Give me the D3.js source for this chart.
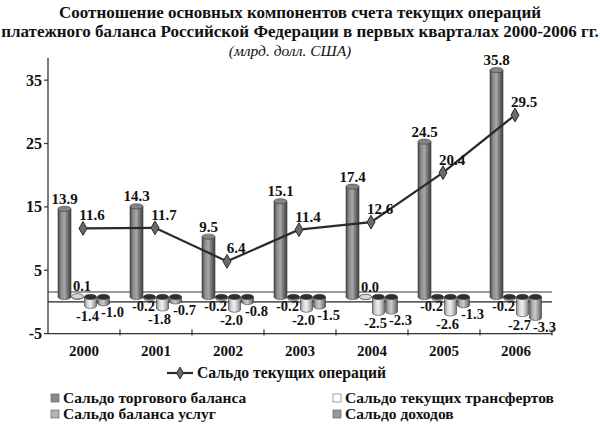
<!DOCTYPE html>
<html>
<head>
<meta charset="utf-8">
<script src="https://cdn.jsdelivr.net/npm/d3@7"></script>
<style>
  html, body { margin: 0; padding: 0; background: #fff; }
  svg { display: block; }
  text { font-family: "Liberation Serif", "Times New Roman", serif; font-weight: bold; fill: #111; }
</style>
</head>
<body>
<svg id="chart" width="600" height="445"></svg>
<script>
// ---- data ----
const years = ["2000", "2001", "2002", "2003", "2004", "2005", "2006"];
const trade = [13.9, 14.3, 9.5, 15.1, 17.4, 24.5, 35.8];
const transfers = [0.1, -0.2, -0.2, -0.2, 0.0, -0.2, -0.2];
const services = [-1.4, -1.8, -2.0, -2.0, -2.5, -2.6, -2.7];
const income = [-1.0, -0.7, -0.8, -1.5, -2.3, -1.3, -3.3];
const current = [11.6, 11.7, 6.4, 11.4, 12.6, 20.4, 29.5];
const yTicks = [-5, 5, 15, 25, 35];
const titleLines = [
  "Соотношение основных компонентов счета текущих операций",
  "платежного баланса Российской Федерации в первых кварталах 2000-2006 гг."
];
const subtitle = "(млрд. долл. США)";
const seriesKeys = ["trade", "transfers", "services", "income"];
const seriesNames = {
  trade: "Сальдо торгового баланса",
  transfers: "Сальдо текущих трансфертов",
  services: "Сальдо баланса услуг",
  income: "Сальдо доходов"
};
const lineName = "Сальдо текущих операций";
const seriesData = { trade, transfers, services, income };

// ---- layout ----
const svg = d3.select("#chart");
const plotLeft = 48, plotRight = 552, plotTop = 58, plotBottom = 333.6;
const depth = 5; // 3D floor offset

const y = d3.scaleLinear().domain([-5, 38.5]).range([plotBottom, plotTop]);
const x = d3.scaleBand().domain(years).range([plotLeft, plotRight]).padding(0);
const x1 = d3.scaleBand().domain(seriesKeys).range([10, 62]).padding(0);

// ---- gradients ----
const defs = svg.append("defs");
const grads = {
  trade: ["#4a4a4a", "#8e8e8e", "#a6a6a6", "#707070", "#404040"],
  transfers: ["#a8a8a8", "#e6e6e6", "#f6f6f6", "#d6d6d6", "#a0a0a0"],
  services: ["#8a8a8a", "#d6d6d6", "#eeeeee", "#bdbdbd", "#7c7c7c"],
  income: ["#666666", "#b0b0b0", "#c8c8c8", "#949494", "#5a5a5a"]
};
Object.entries(grads).forEach(([k, cols]) => {
  const g = defs.append("linearGradient").attr("id", "g-" + k)
    .attr("x1", "0").attr("x2", "1").attr("y1", "0").attr("y2", "0");
  cols.forEach((c, i) => g.append("stop").attr("offset", i / (cols.length - 1)).attr("stop-color", c));
});
const capColors = { trade: "#848484", transfers: "#d8d8d8", services: "#c4c4c4", income: "#a0a0a0" };

// ---- title ----
svg.append("text").attr("x", 300).attr("y", 18).attr("text-anchor", "middle")
  .style("font-size", "17px").text(titleLines[0]);
svg.append("text").attr("x", 300).attr("y", 37).attr("text-anchor", "middle")
  .style("font-size", "17px").text(titleLines[1]);
svg.append("text").attr("x", 290).attr("y", 56).attr("text-anchor", "middle")
  .style("font-size", "15.5px").style("font-style", "italic").style("font-weight", "normal")
  .text(subtitle);

// ---- reference lines ----
svg.append("line").attr("x1", plotLeft).attr("x2", plotRight)
  .attr("y1", y(0) - 10).attr("y2", y(0) - 10)
  .attr("stroke", "#7a7a7a").attr("stroke-width", 1.5);
svg.append("line").attr("x1", plotLeft).attr("x2", plotRight)
  .attr("y1", y(0)).attr("y2", y(0))
  .attr("stroke", "#222").attr("stroke-width", 1.2);

// ---- y axis ----
const yAxis = svg.append("g");
yAxis.append("line").attr("x1", plotLeft).attr("x2", plotLeft)
  .attr("y1", plotTop).attr("y2", plotBottom).attr("stroke", "#333").attr("stroke-width", 1.3);
yTicks.forEach(t => {
  yAxis.append("line").attr("x1", plotLeft - 4).attr("x2", plotLeft)
    .attr("y1", y(t)).attr("y2", y(t)).attr("stroke", "#333").attr("stroke-width", 1.2);
  yAxis.append("text").attr("x", plotLeft - 6).attr("y", y(t) + 5.5)
    .attr("text-anchor", "end").style("font-size", "16px").text(t);
});

// ---- x axis ----
const xAxis = svg.append("g");
xAxis.append("line").attr("x1", plotLeft).attr("x2", plotRight)
  .attr("y1", y(-5)).attr("y2", y(-5)).attr("stroke", "#333").attr("stroke-width", 1.3);
years.forEach((yr, i) => {
  const bx = x(yr) + x.bandwidth();
  xAxis.append("line").attr("x1", bx).attr("x2", bx)
    .attr("y1", y(-5) - 4).attr("y2", y(-5) + 2).attr("stroke", "#333").attr("stroke-width", 1.2);
  xAxis.append("text").attr("x", x(yr) + x.bandwidth() / 2).attr("y", 355.5)
    .attr("text-anchor", "middle").style("font-size", "15px").text(yr);
});

// ---- cylinders ----
const ry = 2.6;
const barG = svg.append("g");
function cylinder(key, cx, v) {
  const barW = key === "trade" ? 13 : 12;
  const y0 = y(0) - depth, yv = y(v) - depth;
  const top = Math.min(y0, yv), bot = Math.max(y0, yv);
  const g = barG.append("g");
  g.append("ellipse").attr("cx", cx).attr("cy", bot).attr("rx", barW / 2).attr("ry", ry)
    .attr("fill", `url(#g-${key})`).attr("stroke", "#3a3a3a").attr("stroke-width", 0.6);
  g.append("rect").attr("x", cx - barW / 2).attr("y", top).attr("width", barW).attr("height", bot - top)
    .attr("fill", `url(#g-${key})`);
  g.append("line").attr("x1", cx - barW / 2).attr("x2", cx - barW / 2).attr("y1", top).attr("y2", bot)
    .attr("stroke", "#3a3a3a").attr("stroke-width", 0.6);
  g.append("line").attr("x1", cx + barW / 2).attr("x2", cx + barW / 2).attr("y1", top).attr("y2", bot)
    .attr("stroke", "#3a3a3a").attr("stroke-width", 0.6);
  const capFill = v < 0 ? "#2e2e2e" : capColors[key];
  g.append("ellipse").attr("cx", cx).attr("cy", top).attr("rx", barW / 2).attr("ry", ry)
    .attr("fill", capFill).attr("stroke", "#3a3a3a").attr("stroke-width", 0.6);
}

const labelG = svg.append("g");
const labelDx = { trade: 0, transfers: -6, services: -3, income: 9 };
const labelDy = { trade: 14, transfers: 12.5, services: 15.5, income: 14 };
years.forEach((yr, i) => {
  seriesKeys.forEach(k => {
    const v = seriesData[k][i];
    const cx = x(yr) + x1(k) + x1.bandwidth() / 2;
    cylinder(k, cx, v);
    let lx, ly;
    if (v >= 0) {
      lx = cx + (k === "trade" ? 0 : 4.5);
      ly = y(v) - depth - 5;
    } else {
      lx = cx + labelDx[k];
      ly = y(v) - depth + labelDy[k];
    }
    labelG.append("text").attr("x", lx).attr("y", ly).attr("text-anchor", "middle")
      .style("font-size", k === "trade" ? "15px" : "14.5px").text(v.toFixed(1));
  });
});

// ---- current account line ----
const lineX = (yr) => x(yr) + x.bandwidth() / 2 - 1;
const line = d3.line().x(d => lineX(d.yr)).y(d => y(d.v));
const lineData = years.map((yr, i) => ({ yr, v: current[i] }));
svg.append("path").datum(lineData).attr("d", line)
  .attr("fill", "none").attr("stroke", "#2a2a2a").attr("stroke-width", 2.2);
const diamond = d3.symbol().type(d3.symbolDiamond).size(55);
svg.selectAll(".mk").data(lineData).join("path")
  .attr("transform", d => `translate(${lineX(d.yr)},${y(d.v)})`)
  .attr("d", diamond).attr("fill", "#6a6a6a").attr("stroke", "#2a2a2a").attr("stroke-width", 1);
svg.selectAll(".lbl").data(lineData).join("text")
  .attr("x", d => lineX(d.yr) + 9).attr("y", d => y(d.v) - 8)
  .attr("text-anchor", "middle").style("font-size", "15px")
  .text(d => d.v.toFixed(1));

// ---- legend ----
const lg = svg.append("g");
lg.append("line").attr("x1", 167).attr("x2", 193).attr("y1", 373).attr("y2", 373)
  .attr("stroke", "#2a2a2a").attr("stroke-width", 2.2);
lg.append("path").attr("transform", "translate(180,373)").attr("d", d3.symbol().type(d3.symbolDiamond).size(40))
  .attr("fill", "#6a6a6a").attr("stroke", "#2a2a2a").attr("stroke-width", 1);
lg.append("text").attr("x", 197).attr("y", 378).style("font-size", "15.7px").text(lineName);

const legendItems = [
  { k: "trade", x: 51, y: 398 },
  { k: "services", x: 51, y: 414 },
  { k: "transfers", x: 333, y: 398 },
  { k: "income", x: 333, y: 414 }
];
const sqFill = { trade: "#8a8a8a", services: "#b4b4b4", transfers: "#ffffff", income: "#9a9a9a" };
legendItems.forEach(it => {
  lg.append("rect").attr("x", it.x).attr("y", it.y - 4).attr("width", 8).attr("height", 8)
    .attr("fill", sqFill[it.k]).attr("stroke", it.k === "transfers" ? "#777" : "#666").attr("stroke-width", 0.7);
  lg.append("text").attr("x", it.x + 12).attr("y", it.y + 5).style("font-size", "15.5px").text(seriesNames[it.k]);
});
</script>
</body>
</html>
